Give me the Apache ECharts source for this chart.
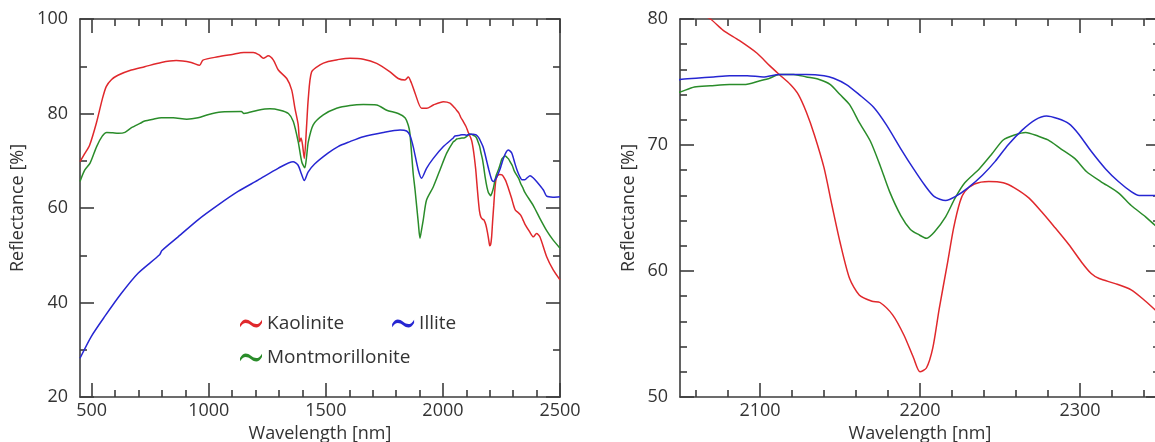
<!DOCTYPE html>
<html>
<head>
<meta charset="utf-8">
<script src="https://cdn.jsdelivr.net/npm/echarts@6/dist/echarts.min.js"></script>
<style>
html,body{margin:0;padding:0;background:#fff;}
#chart{width:1155px;height:442px;}
</style>
</head>
<body>
<div id="chart"></div>
<script>
// ---- Data (wavelength nm, reflectance %) ----
const kaolinite = [
[450,69.8],[470,71.5],[491,73.3],[520,78.0],[545,83.0],[562,85.7],[585,87.2],[612,88.1],[669,89.2],[726,89.9],
[797,90.8],[861,91.2],[925,90.8],[961,90.2],[975,91.3],[1039,92.0],[1100,92.5],[1150,92.9],[1190,92.9],[1215,92.4],
[1233,91.7],[1254,92.2],[1276,91.3],[1297,89.2],[1333,87.4],[1354,85.0],[1368,81.1],[1382,77.6],[1388,74.0],[1394,74.8],
[1400,73.5],[1408,70.5],[1418,77.6],[1425,83.2],[1439,88.8],[1475,90.3],[1510,91.0],[1550,91.4],[1603,91.7],[1660,91.5],
[1717,90.6],[1774,88.8],[1809,87.4],[1838,87.1],[1852,87.7],[1865,86.5],[1881,84.3],[1909,81.1],[1931,81.1],[1959,81.8],
[2002,82.5],[2030,82.2],[2050,81.2],[2060,80.6],[2069,80.0],[2077,79.1],[2087,78.3],[2098,77.3],[2106,76.3],[2112,75.6],
[2119,74.8],[2124,74.0],[2129,72.6],[2134,70.8],[2140,68.2],[2145,65.2],[2150,62.3],[2156,59.4],[2162,58.1],[2170,57.6],
[2175,57.5],[2183,56.5],[2190,54.9],[2196,53.1],[2200,52.0],[2204,52.3],[2208,53.9],[2212,57.0],[2217,60.5],[2221,63.4],
[2225,65.5],[2228,66.3],[2234,66.9],[2243,67.1],[2252,67.0],[2259,66.6],[2268,65.8],[2276,64.7],[2284,63.5],[2293,62.1],
[2301,60.7],[2307,59.8],[2312,59.4],[2322,59.0],[2332,58.5],[2341,57.6],[2350,56.6],[2370,55.0],[2386,53.9],[2400,54.6],
[2414,53.9],[2443,49.7],[2471,46.9],[2500,44.8]
];
const montmorillonite = [
[450,65.6],[470,68.0],[493,69.5],[521,73.0],[545,75.2],[564,76.0],[590,75.9],[614,75.8],[642,76.0],[670,77.0],
[706,77.9],[726,78.4],[763,78.8],[797,79.1],[848,79.1],[906,78.8],[954,79.1],[1000,79.8],[1053,80.3],[1139,80.4],
[1150,80.0],[1210,80.7],[1261,81.0],[1304,80.7],[1340,80.0],[1361,78.3],[1382,74.0],[1397,69.8],[1410,68.5],[1418,71.0],
[1425,74.0],[1446,77.6],[1489,79.7],[1546,81.1],[1603,81.7],[1660,81.9],[1717,81.8],[1760,80.7],[1809,80.0],[1838,79.1],
[1852,77.5],[1859,75.8],[1873,67.3],[1881,63.8],[1895,56.8],[1902,53.6],[1909,55.5],[1916,57.5],[1930,61.7],[1959,64.5],
[1987,68.0],[2016,71.6],[2044,74.0],[2050,74.2],[2059,74.6],[2069,74.7],[2081,74.8],[2090,74.8],[2100,75.1],[2106,75.3],
[2112,75.6],[2121,75.6],[2129,75.4],[2137,75.2],[2144,74.8],[2150,74.0],[2156,73.2],[2162,71.8],[2169,70.3],[2175,68.4],
[2181,66.3],[2188,64.4],[2194,63.3],[2199,62.9],[2204,62.6],[2209,63.1],[2216,64.3],[2222,65.8],[2228,67.0],[2237,68.1],
[2245,69.3],[2252,70.4],[2259,70.8],[2266,71.0],[2274,70.7],[2280,70.4],[2288,69.7],[2297,68.9],[2304,67.9],[2313,67.1],
[2324,66.2],[2332,65.2],[2341,64.3],[2350,63.3],[2386,60.5],[2414,57.8],[2443,55.2],[2471,53.2],[2500,51.5]
];
const illite = [
[450,28.2],[498,32.8],[555,37.0],[626,41.9],[698,46.2],[790,50.1],[800,51.0],[869,53.9],[954,57.5],[1039,60.6],
[1125,63.5],[1210,65.9],[1296,68.4],[1360,69.8],[1381,69.1],[1395,67.3],[1408,65.8],[1424,67.6],[1452,69.3],[1509,71.6],
[1552,73.0],[1600,74.0],[1660,75.1],[1745,76.0],[1817,76.5],[1845,76.3],[1859,75.4],[1873,73.0],[1895,68.0],[1909,66.3],
[1930,68.4],[1959,70.5],[2002,73.0],[2044,74.8],[2050,75.2],[2060,75.3],[2071,75.4],[2081,75.5],[2092,75.5],[2102,75.4],
[2112,75.6],[2121,75.6],[2129,75.6],[2140,75.5],[2146,75.3],[2154,74.8],[2162,74.0],[2171,73.0],[2179,71.6],[2188,69.7],
[2196,68.1],[2203,66.8],[2209,65.9],[2216,65.6],[2222,65.9],[2230,66.6],[2239,67.6],[2247,68.7],[2255,70.0],[2264,71.2],
[2272,72.0],[2279,72.3],[2286,72.1],[2293,71.7],[2299,70.9],[2307,69.5],[2316,68.1],[2324,67.1],[2332,66.3],[2337,66.0],
[2350,66.0],[2360,66.4],[2372,66.8],[2385,66.4],[2400,65.6],[2429,63.8],[2443,62.5],[2470,62.3],[2500,62.4]
];
const seriesNames = ['Kaolinite', 'Montmorillonite', 'Illite'];
// ---- Ticks ----
const leftXMajor = [500, 1000, 1500, 2000, 2500];
const leftXMinor = [600,700,800,900,1100,1200,1300,1400,1600,1700,1800,1900,2100,2200,2300,2400];
const rightXMajor = [2100, 2200, 2300];
const rightXMinor = [2060,2080,2120,2140,2160,2180,2220,2240,2260,2280,2320,2340];
const xName = 'Wavelength [nm]';
const yName = 'Reflectance [%]';

const AX = '#3c3c3c';
const TXT = '#333';
const FONT = 'Open Sans';
const colors = ['#e0282c', '#2a8c2a', '#2626d2'];

function xAxes(grid, min, max, major, minor) {
  const base = {type:'value', gridIndex:grid, min:min, max:max, splitLine:{show:false}};
  return [
    Object.assign({}, base, {position:'bottom', name:xName, nameLocation:'middle', nameGap:21,
      nameTextStyle:{color:TXT, fontSize:18, fontFamily:FONT},
      axisLine:{show:true, lineStyle:{color:AX, width:1.6}},
      axisTick:{show:true, inside:true, length:14, customValues:major, lineStyle:{color:AX, width:1.6}},
      axisLabel:{show:true, customValues:major, margin:5, color:TXT, fontSize:18, fontFamily:FONT, formatter:v=>String(v)}}),
    Object.assign({}, base, {position:'bottom',
      axisLine:{show:false}, axisLabel:{show:false},
      axisTick:{show:true, inside:true, length:7, customValues:minor, lineStyle:{color:AX, width:1.6}}}),
    Object.assign({}, base, {position:'top',
      axisLine:{show:true, lineStyle:{color:AX, width:1.6}}, axisLabel:{show:false},
      axisTick:{show:true, inside:true, length:14, customValues:major, lineStyle:{color:AX, width:1.6}}}),
    Object.assign({}, base, {position:'top',
      axisLine:{show:false}, axisLabel:{show:false},
      axisTick:{show:true, inside:true, length:7, customValues:minor, lineStyle:{color:AX, width:1.6}}})
  ];
}
function yAxes(grid, min, max, interval, minorSplit, gap) {
  const base = {type:'value', gridIndex:grid, min:min, max:max, interval:interval, splitLine:{show:false},
    axisLine:{show:true, lineStyle:{color:AX, width:1.6}},
    axisTick:{show:true, inside:true, length:14, lineStyle:{color:AX, width:1.6}},
    minorTick:{show:true, splitNumber:minorSplit, length:7, lineStyle:{color:AX, width:1.6}},
    minorSplitLine:{show:false}};
  return [
    Object.assign({}, base, {position:'left', name:yName, nameLocation:'middle', nameGap:gap,
      nameTextStyle:{color:TXT, fontSize:18, fontFamily:FONT},
      axisLabel:{show:true, margin:12, color:TXT, fontSize:18, fontFamily:FONT, formatter:v=>String(v)}}),
    Object.assign({}, base, {position:'right', axisLabel:{show:false}})
  ];
}

const dataSets = [kaolinite, montmorillonite, illite];
const series = [];
[[0,0],[4,2]].forEach(([xi, yi]) => {
  dataSets.forEach((d, i) => {
    series.push({type:'line', name:seriesNames[i], data:d, xAxisIndex:xi, yAxisIndex:yi,
      showSymbol:false, symbol:'none', smooth:0.25, clip:true,
      color:colors[i], lineStyle:{color:colors[i], width:1.5}, emphasis:{disabled:true}});
  });
});

const wave = 'path://M0,6 C3,1 6,1 10,4 C14,7 17,7 20,2 L20,5 C17,10 14,10 10,7 C6,4 3,4 0,9 Z';
const legendText = {color:TXT, fontSize:19, fontFamily:FONT};

const chart = echarts.init(document.getElementById('chart'), null, {renderer:'canvas'});
chart.setOption({
  animation:false,
  backgroundColor:'#fff',
  grid:[
    {left:80, top:19, width:480, height:378, containLabel:false, outerBoundsMode:'none'},
    {left:680, top:19, width:480, height:378, containLabel:false, outerBoundsMode:'none'}
  ],
  xAxis: xAxes(0, 450, 2500, leftXMajor, leftXMinor).concat(xAxes(1, 2050, 2350, rightXMajor, rightXMinor)),
  yAxis: yAxes(0, 20, 100, 20, 2, 53).concat(yAxes(1, 50, 80, 10, 5, 42)),
  legend:[
    {data:['Kaolinite','Illite'], left:240, top:314, padding:0, itemGap:48, itemWidth:22, itemHeight:9,
      icon:wave, textStyle:legendText, selectedMode:false},
    {data:['Montmorillonite'], left:240, top:348, padding:0, itemWidth:22, itemHeight:9,
      icon:wave, textStyle:legendText, selectedMode:false}
  ],
  series: series
});
</script>
</body>
</html>
